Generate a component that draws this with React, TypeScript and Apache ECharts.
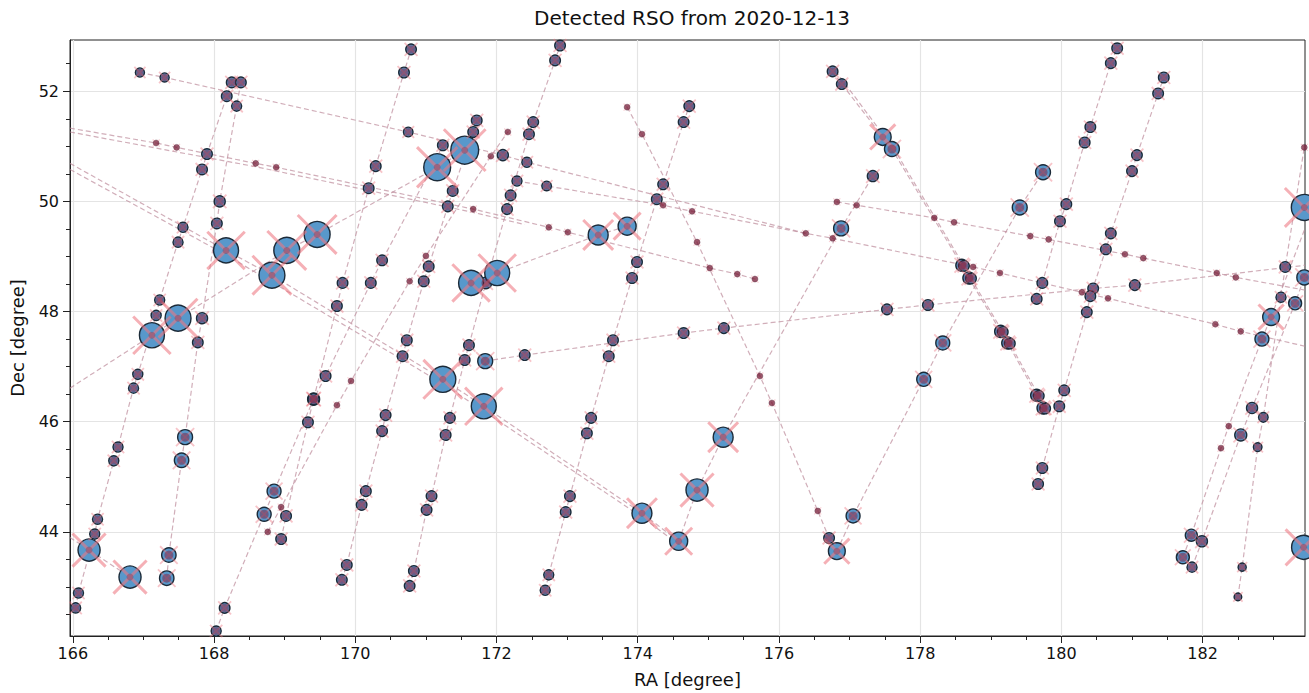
import React, { useEffect, useRef } from "react";
import * as echarts from "echarts";

// Each track: [RA, Dec, brightness]; brightness -1 = path vertex only, 0 = faint detection
const trackT1 = [[166.04,42.62,4.2],[166.08,42.89,4.2],[166.31,43.96,4.2],[166.35,44.23,4.2],[166.58,45.29,4.2],[166.64,45.54,4.2],[166.86,46.61,4.2],[166.92,46.86,4.2],[167.18,47.93,4.2],[167.23,48.21,4.2],[167.49,49.26,4.2],[167.56,49.53,4.2],[167.83,50.58,4.4],[167.90,50.86,4.4],[168.18,51.91,4.4],[168.25,52.16,4.4]];
const trackT2 = [[167.33,43.16,6],[167.36,43.58,6],[167.54,45.30,6],[167.59,45.72,6.2],[167.77,47.44,4.4],[167.83,47.88,4.6],[168.04,49.60,4.4],[168.08,50.00,4.6],[168.32,51.73,4.2],[168.38,52.16,4.4]];
const trackBigLow = [[165.96,43.90,-1],[166.23,43.67,9.2],[166.81,43.18,9.2]];
const trackBigUp = [[165.96,46.61,-1],[167.12,47.57,10.4],[167.49,47.88,10.8],[169.03,49.11,10.8],[169.46,49.40,10.8],[171.16,50.62,11.2],[171.55,50.93,11.6]];
const trackDiag = [[165.96,50.69,-1],[168.17,49.11,10.4],[168.82,48.66,10.8],[171.24,46.77,10.8],[171.82,46.28,10.4],[174.06,44.34,8.3],[174.58,43.83,7.5]];
const trackDiag2 = [[165.96,50.58,-1],[168.17,49.03,-1],[171.24,46.69,-1],[174.06,44.27,-1],[174.58,43.77,-1]];
const trackH1 = [[166.95,52.34,3.8],[167.30,52.25,3.8],[170.75,51.26,4.0],[172.09,50.84,4.6],[172.43,50.71,4.2],[176.38,49.42,0],[176.76,49.33,0],[178.75,48.81,0],[179.13,48.70,0],[180.29,48.35,0],[180.66,48.24,0],[182.18,47.77,0],[182.54,47.64,0],[183.45,47.37,-1]];
const trackH2 = [[165.96,51.33,-1],[167.18,51.06,0],[167.47,50.98,0],[168.59,50.69,0],[168.88,50.62,0],[171.67,49.86,0],[172.74,49.53,0],[173.01,49.44,0],[175.02,48.79,0],[175.41,48.68,0],[175.66,48.59,0]];
const trackH2b = [[165.96,51.26,-1],[168.59,50.63,-1],[171.67,49.80,-1],[172.4,49.58,-1]];
const trackH3 = [[176.82,49.99,0],[177.10,49.93,0],[178.20,49.70,0],[178.48,49.62,0],[179.56,49.37,0],[179.82,49.31,0],[180.90,49.04,0],[181.16,48.97,0],[182.20,48.70,0],[182.47,48.62,0],[183.45,48.39,-1]];
const trackH5 = [[172.29,50.37,4.2],[172.71,50.28,4.0],[174.36,49.93,0],[174.77,49.82,0],[176.38,49.42,-1]];
const trackH6 = [[171.84,47.10,6.2],[172.40,47.21,4.4],[174.65,47.61,4.4],[175.22,47.70,4.4],[177.53,48.04,4.4],[178.11,48.12,4.4],[180.45,48.42,4.4],[181.04,48.48,4.4],[183.45,48.84,-1]];
const trackT4 = [[168.03,42.20,4.2],[168.15,42.62,4.4],[168.71,44.32,5.8],[168.85,44.74,5.8],[169.41,46.41,5],[169.58,46.83,4.4],[170.22,48.52,4.4],[170.38,48.93,4.4],[171.08,50.60,-1],[171.24,51.02,4.4]];
const trackT5 = [[168.95,43.87,4.4],[169.02,44.29,4.4],[169.33,45.99,4.4],[169.41,46.41,4.6],[169.74,48.10,4.4],[169.82,48.52,4.4],[170.19,50.24,4.4],[170.29,50.64,4.4],[170.69,52.34,4.4],[170.79,52.76,4.4]];
const trackTE = [[168.76,44.00,0],[168.95,44.45,0],[169.74,46.30,0],[169.94,46.74,0],[170.77,48.55,0],[171.00,49.01,0],[171.92,50.82,0],[172.16,51.26,0]];
const trackTD = [[169.81,43.13,4.4],[169.88,43.40,4.4],[170.09,44.49,4.4],[170.15,44.74,4.4],[170.38,45.83,4.4],[170.43,46.12,4.4],[170.67,47.19,4.4],[170.73,47.48,4.4],[170.97,48.55,4.4],[171.04,48.82,4.4],[171.31,49.91,4.4],[171.38,50.19,4.4],[171.67,51.26,4.4],[171.72,51.47,4.4]];
const trackTB = [[170.77,43.02,4.4],[170.83,43.29,4.4],[171.01,44.40,4.4],[171.08,44.65,4.4],[171.28,45.76,4.4],[171.34,46.07,4.4],[171.55,47.12,4.4],[171.61,47.39,4.4],[171.85,48.52,4.8],[171.91,48.79,-1],[172.15,49.86,4.4],[172.20,50.11,4.4],[172.46,51.22,4.4],[172.52,51.44,4.4],[172.83,52.56,4.4],[172.90,52.83,4.4]];
const trackTC = [[172.69,42.94,4.2],[172.74,43.22,4.2],[172.98,44.36,4.4],[173.04,44.65,4.4],[173.28,45.79,4.4],[173.34,46.07,4.4],[173.59,47.19,4.4],[173.65,47.48,4.4],[173.92,48.61,4.4],[173.99,48.90,4.4],[174.27,50.04,4.4],[174.36,50.31,4.4],[174.65,51.44,4.4],[174.73,51.73,4.4]];
const trackBig3 = [[171.64,48.52,10.4],[172.01,48.70,10.4],[173.44,49.39,8.3],[173.85,49.55,7.5]];
const trackV = [[173.85,51.71,0],[174.06,51.22,0],[174.84,49.26,0],[175.73,46.83,0],[175.90,46.34,0],[176.55,44.38,0],[176.71,43.89,4.4]];
const trackTA = [[176.82,43.65,7],[177.05,44.29,5.8],[178.05,46.77,5.8],[178.32,47.43,5.8],[179.41,49.89,6.2],[179.74,50.53,6.2]];
const trackDG = [[176.76,52.36,4.4],[176.89,52.13,4.4],[177.47,51.17,7],[177.60,50.95,6.2],[178.59,48.84,5],[178.69,48.61,5],[179.14,47.64,5],[179.24,47.43,5],[179.65,46.48,5],[179.74,46.25,5]];
const trackDG2 = [[176.80,52.37,-1],[177.64,50.93,-1],[178.62,48.83,4.4],[178.72,48.60,4.4],[179.17,47.63,4.4],[179.27,47.42,4.4],[179.68,46.47,4.4],[179.77,46.24,4.4]];
const trackTH = [[174.58,43.83,-1],[174.84,44.76,9.2],[175.21,45.72,8.3],[176.88,49.51,6.2],[177.33,50.46,4.6]];
const trackTI = [[179.67,44.87,4.4],[179.73,45.16,4.4],[179.97,46.28,4.4],[180.04,46.57,4.4],[180.36,47.99,4.4],[180.41,48.28,4.4],[180.63,49.13,4.4],[180.70,49.42,4.4],[181.00,50.55,4.4],[181.07,50.84,4.4],[181.37,51.96,4.4],[181.45,52.25,4.4]];
const trackTJ = [[179.65,48.23,4.4],[179.73,48.52,4.4],[179.98,49.64,4.4],[180.07,49.95,4.4],[180.33,51.07,4.4],[180.41,51.35,4.4],[180.70,52.51,4.4],[180.79,52.78,4.4]];
const trackTL = [[182.50,42.82,3.2],[182.56,43.36,3.4],[182.78,45.54,3.6],[182.86,46.08,4],[183.11,48.26,4.2],[183.17,48.81,4.4],[183.44,50.98,0]];
const trackTK1 = [[181.72,43.54,5.4],[181.84,43.94,5],[182.26,45.52,0],[182.37,45.92,0],[182.84,47.50,5.8],[182.97,47.90,7],[183.45,49.51,-1]];
const trackTK2 = [[181.85,43.36,4.2],[181.99,43.83,4.6],[182.54,45.76,5],[182.70,46.25,4.6],[183.31,48.15,5.4],[183.44,48.62,6.2]];
const edgeA = [[183.44,49.89,10.8]];
const edgeB = [[183.43,43.72,10]];

const tracks = [trackT1, trackT2, trackBigLow, trackBigUp, trackDiag, trackDiag2, trackH1, trackH2, trackH2b, trackH3, trackH5, trackH6, trackT4, trackT5, trackTE, trackTD, trackTB, trackTC, trackBig3, trackV, trackTA, trackDG, trackDG2, trackTH, trackTI, trackTJ, trackTL, trackTK1, trackTK2, edgeA, edgeB];

const xMajor = [166, 168, 170, 172, 174, 176, 178, 180, 182];
const yMajor = [44, 46, 48, 50, 52];
const xMinor = [166.5,167,167.5,168.5,169,169.5,170.5,171,171.5,172.5,173,173.5,174.5,175,175.5,176.5,177,177.5,178.5,179,179.5,180.5,181,181.5,182.5,183];
const yMinor = [42.5,43,43.5,44.5,45,45.5,46.5,47,47.5,48.5,49,49.5,50.5,51,51.5,52.5];

const RA_MIN = 165.96, RA_MAX = 183.45, DEC_MIN = 42.11, DEC_MAX = 52.93;

const FONT = "DejaVu Sans";
const diam = (b: number) => b * 2.4;

export default function App() {
  const ref = useRef<HTMLDivElement>(null);
  useEffect(() => {
    const chart = echarts.init(ref.current!, null, { renderer: "svg" });
    const dets: number[][] = [];
    tracks.forEach((t) => t.forEach((p) => { if (p[2] >= 0) dets.push(p); }));

    const lineSeries = tracks.filter((t) => t.length > 1).map((t) => ({
      type: "line",
      data: t.map((p) => [p[0], p[1]]),
      symbol: "none",
      silent: true,
      z: 1,
      lineStyle: { color: "rgba(190,140,155,0.7)", width: 1.2, type: [5, 3] },
    }));

    const axisCommon = {
      type: "value",
      axisLine: { show: true, lineStyle: { color: "#222", width: 1 } },
    };

    const option: any = {
      animation: false,
      backgroundColor: "#ffffff",
      textStyle: { fontFamily: FONT },
      title: {
        text: "Detected RSO from 2020-12-13",
        left: 687,
        top: 3,
        textAlign: "center",
        textStyle: { fontFamily: FONT, fontSize: 20, fontWeight: "normal", color: "#111" },
      },
      grid: { left: 70, right: 4, top: 40, bottom: 57, show: true, borderColor: "#222", borderWidth: 1, backgroundColor: "transparent" },
      xAxis: [
        {
          ...axisCommon,
          min: RA_MIN, max: RA_MAX, splitNumber: 9, minInterval: 2, maxInterval: 2,
          name: "RA [degree]", nameLocation: "middle", nameGap: 34,
          nameTextStyle: { fontFamily: FONT, fontSize: 18, color: "#111" },
          axisTick: { show: true, length: 7, customValues: xMajor, lineStyle: { color: "#222" } },
          axisLabel: { show: true, customValues: xMajor, fontFamily: FONT, fontSize: 16, color: "#111", margin: 9 },
          splitLine: { show: true, lineStyle: { color: "#e4e4e4", width: 1.2 } },
        },
        {
          ...axisCommon,
          position: "bottom",
          min: RA_MIN, max: RA_MAX, splitNumber: 9, minInterval: 2, maxInterval: 2,
          axisLine: { show: false },
          axisTick: { show: true, length: 4, customValues: xMinor, lineStyle: { color: "#222" } },
          axisLabel: { show: false },
          splitLine: { show: false },
        },
      ],
      yAxis: [
        {
          ...axisCommon,
          min: DEC_MIN, max: DEC_MAX, splitNumber: 5, minInterval: 2, maxInterval: 2,
          name: "Dec [degree]", nameLocation: "middle", nameGap: 44, nameRotate: 90,
          nameTextStyle: { fontFamily: FONT, fontSize: 18, color: "#111" },
          axisTick: { show: true, length: 7, customValues: yMajor, lineStyle: { color: "#222" } },
          axisLabel: { show: true, customValues: yMajor, fontFamily: FONT, fontSize: 16, color: "#111", margin: 11 },
          splitLine: { show: true, lineStyle: { color: "#e4e4e4", width: 1.2 } },
        },
        {
          ...axisCommon,
          position: "left",
          min: DEC_MIN, max: DEC_MAX, splitNumber: 5, minInterval: 2, maxInterval: 2,
          axisLine: { show: false },
          axisTick: { show: true, length: 4, customValues: yMinor, lineStyle: { color: "#222" } },
          axisLabel: { show: false },
          splitLine: { show: false },
        },
      ],
      series: [
        ...lineSeries,
        {
          type: "scatter",
          silent: true,
          z: 2,
          data: dets.filter((p) => p[2] > 0),
          symbol: "circle",
          symbolSize: (v: number[]) => diam(v[2]),
          itemStyle: { color: "#5898cb", borderColor: "#1b2a38", borderWidth: 1.4, opacity: 1 },
        },
        {
          type: "scatter",
          silent: true,
          z: 3,
          symbol: "path://M0 0L10 10M10 0L0 10",
          data: dets.map((p) => {
            const big = p[2] >= 7;
            return {
              value: p,
              symbolSize: p[2] > 0 ? diam(p[2]) * (big ? 1.5 : 1.22) : 7,
              itemStyle: big
                ? { borderWidth: 3, borderColor: "rgba(238,118,128,0.72)" }
                : p[2] > 0
                ? { borderWidth: 1.8, borderColor: "rgba(236,120,132,0.55)" }
                : { borderWidth: 1.1, borderColor: "rgba(236,120,132,0.45)" },
            };
          }),
          itemStyle: { color: "transparent" },
        },
        {
          type: "scatter",
          silent: true,
          z: 4,
          data: dets.map((p) => {
            const big = p[2] >= 7;
            return {
              value: p,
              symbolSize: p[2] <= 0 ? 6 : big ? 7 : Math.min(diam(p[2]) * 0.8, 9),
              itemStyle: p[2] <= 0
                ? { color: "rgba(112,24,52,0.88)", borderColor: "rgba(60,10,30,0.5)", borderWidth: 0.8 }
                : big
                ? { color: "rgba(125,30,60,0.4)", borderWidth: 0 }
                : { color: "rgba(122,30,60,0.6)", borderWidth: 0 },
            };
          }),
          symbol: "circle",
        },
      ],
    };
    chart.setOption(option);
    return () => chart.dispose();
  }, []);
  return <div ref={ref} style={{ position: "fixed", left: 0, top: 0, width: 1309, height: 693, background: "#fff" }} />;
}
